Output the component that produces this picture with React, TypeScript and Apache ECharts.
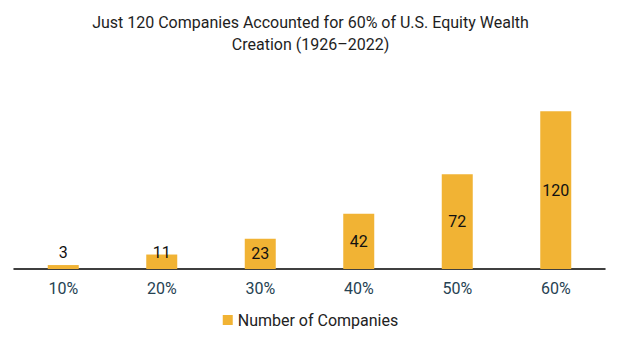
import React, { useEffect, useRef } from "react";
import * as echarts from "echarts";

const categories = ["10%", "20%", "30%", "40%", "50%", "60%"];
const companies = [3, 11, 23, 42, 72, 120];
const seriesName = "Number of Companies";
const titleText = "Just 120 Companies Accounted for 60% of U.S. Equity Wealth\nCreation (1926–2022)";

export default function App() {
  const ref = useRef<HTMLDivElement>(null);
  useEffect(() => {
    if (!ref.current) return;
    const chart = echarts.init(ref.current, null, { renderer: "svg" });
    const data = companies.map((v) =>
      v < 20
        ? { value: v, label: { position: "insideBottom", distance: 9 } }
        : { value: v }
    );
    chart.setOption({
      animation: false,
      title: {
        text: titleText,
        left: "center",
        top: 6,
        textStyle: {
          fontFamily: "Roboto",
          fontSize: 16,
          fontWeight: "normal",
          color: "#1e1e1e",
          lineHeight: 22,
        },
      },
      legend: {
        bottom: 10,
        left: "center",
        icon: "rect",
        itemWidth: 10,
        itemHeight: 10,
        itemGap: 10,
        textStyle: { fontFamily: "Roboto", fontSize: 16, color: "#222" },
        data: [seriesName],
      },
      grid: { left: 14, right: 16, top: 98, bottom: 74, containLabel: false },
      xAxis: {
        type: "category",
        data: categories,
        axisLine: { lineStyle: { color: "#000", width: 1.5 } },
        axisTick: { show: false },
        axisLabel: {
          fontFamily: "Roboto",
          fontSize: 16,
          color: "#264252",
          margin: 11,
        },
      },
      yAxis: {
        type: "value",
        min: 0,
        max: 130,
        show: false,
        splitLine: { show: false },
      },
      series: [
        {
          name: seriesName,
          type: "bar",
          data,
          barWidth: 31,
          itemStyle: { color: "#F1B334" },
          label: {
            show: true,
            position: "inside",
            fontFamily: "Roboto",
            fontSize: 16,
            color: "#111",
          },
        },
      ],
    });
    return () => chart.dispose();
  }, []);
  return (
    <div
      ref={ref}
      style={{ position: "absolute", left: 0, top: 0, width: 621, height: 343 }}
    />
  );
}
